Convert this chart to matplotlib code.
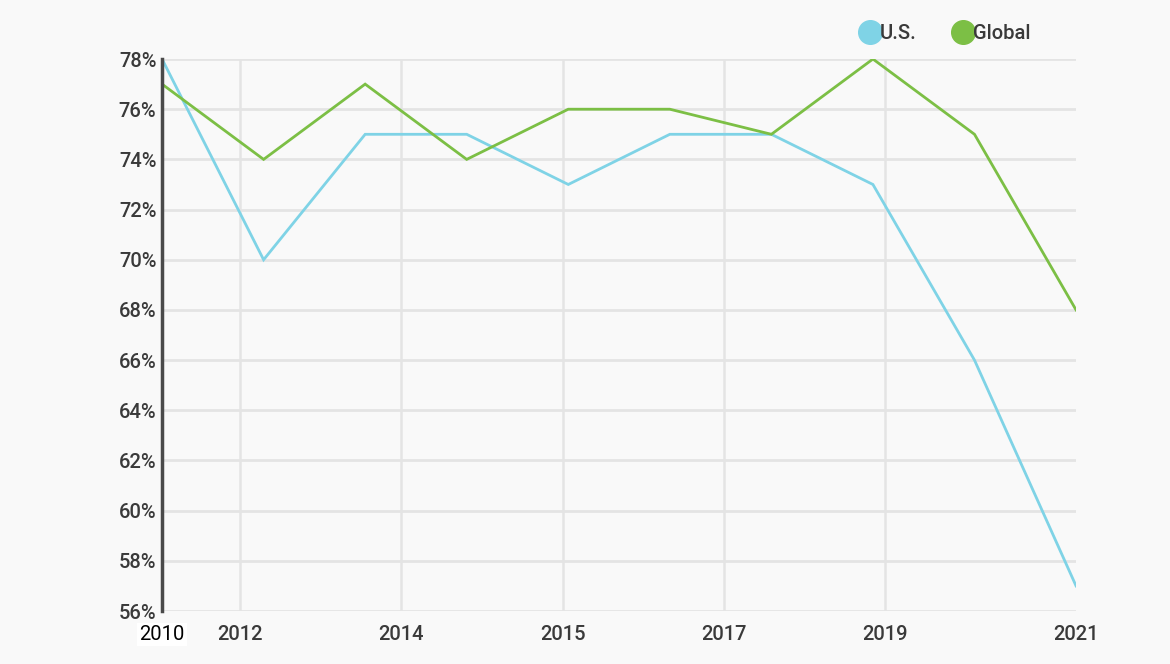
import numpy as np
import matplotlib.pyplot as plt
from matplotlib.lines import Line2D

plt.rcParams['font.family'] = ['Roboto', 'Liberation Sans', 'DejaVu Sans']

# data
us_vals = [78, 70, 75, 75, 73, 75, 75, 73, 66, 57]
global_vals = [77, 74, 77, 74, 76, 76, 75, 78, 75, 68]
year_labels = ['2010', '2012', '2014', '2015', '2017', '2019', '2021']
y_ticks = list(range(56, 80, 2))

us_color = '#7fd3e6'
global_color = '#7cbf45'
grid_color = '#e4e4e4'
text_color = '#3a3a3a'

fig = plt.figure(figsize=(11.7, 6.64), dpi=100, facecolor='#f9f9f9')
ax = fig.add_axes([0.1385, 0.0798, 0.7812, 0.8313])
ax.set_facecolor('#f9f9f9')

x = np.arange(len(us_vals))
ax.plot(x, us_vals, color=us_color, lw=2, zorder=3, solid_joinstyle='miter')
ax.plot(x, global_vals, color=global_color, lw=2, zorder=4, solid_joinstyle='miter')

ax.set_xlim(0, len(us_vals) - 1)
ax.set_ylim(56, 78)

# the year labels sit at their own spacing, not on the data points
inner = np.linspace(0.768, 7.119, 5)
tick_pos = [0] + list(inner) + [len(us_vals) - 1]
ax.set_xticks(tick_pos)
ax.set_xticklabels(year_labels)
ax.set_yticks(y_ticks)
ax.set_yticklabels([f'{v}%' for v in y_ticks])

for t in inner:
    ax.axvline(t, color=grid_color, lw=1.8, zorder=1)
for v in y_ticks:
    ax.axhline(v, color=grid_color, lw=2, zorder=1)

ax.tick_params(axis='both', length=0, labelsize=14.5, colors=text_color)
ax.tick_params(axis='x', pad=10)
ax.tick_params(axis='y', pad=4)
for lbl in ax.get_xticklabels() + ax.get_yticklabels():
    lbl.set_color(text_color)
    lbl.set_fontweight('medium')
first = ax.get_xticklabels()[0]
first.set_color('black')
first.set_fontweight('normal')
first.set_bbox(dict(facecolor='white', edgecolor='none', pad=1.5))

for s in ['top', 'right', 'bottom']:
    ax.spines[s].set_visible(False)
ax.spines['left'].set_color('#4a4a4a')
ax.spines['left'].set_linewidth(2.5)
ax.spines['left'].set_zorder(5)

handles = [Line2D([], [], ls='none', marker='o', ms=17, color=us_color, label='U.S.'),
           Line2D([], [], ls='none', marker='o', ms=17, color=global_color, label='Global')]
leg = fig.legend(handles=handles, loc='center', bbox_to_anchor=(0.807, 0.949), ncol=2,
                 frameon=False, fontsize=14.5, handletextpad=-0.1, columnspacing=1.7,
                 labelcolor=text_color, handlelength=1.2)
for t in leg.get_texts():
    t.set_fontweight('medium')

plt.savefig('out.png', dpi=100, facecolor=fig.get_facecolor())
